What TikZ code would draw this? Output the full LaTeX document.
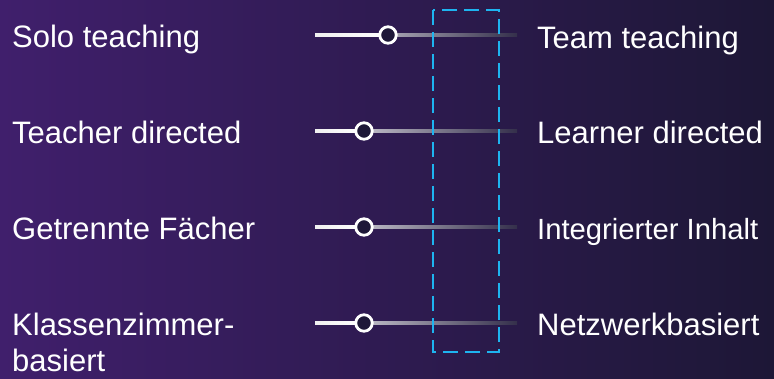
\documentclass[tikz,border=0pt]{standalone}
\usepackage{fontspec}
\setmainfont{Liberation Sans}
\definecolor{bgL}{RGB}{64,31,108}
\definecolor{bgM}{RGB}{40,26,72}
\definecolor{bgR}{RGB}{29,23,54}
\definecolor{trackL}{RGB}{235,233,240}
\definecolor{trackR}{RGB}{52,47,75}
\definecolor{knobfill}{RGB}{30,24,56}
\definecolor{dashcyan}{RGB}{30,180,240}
\tikzset{
  lbl/.style={anchor=base west, inner sep=0pt, text=white, font=\fontsize{31}{36}\selectfont},
  knob/.style={circle, draw=white, line width=2.8pt, fill=knobfill, minimum size=16.5pt, inner sep=0pt},
  frame/.style={draw=dashcyan, line width=1.9pt, dash pattern=on 15pt off 7pt}
}
\begin{document}
\begin{tikzpicture}[x=1pt,y=-1pt]
\useasboundingbox (0,0) rectangle (774,378);
\shade[left color=bgL, middle color=bgM, right color=bgR] (0,0) rectangle (774,378);
\foreach \i/\y/\k in {1/35/388, 2/131/364, 3/227/364, 4/323/364}{
  \coordinate (s\i) at (315,\y);
  \coordinate (e\i) at (517,\y);
  \shade[left color=trackL, right color=trackR] (315,\y-1.7) rectangle (517,\y+1.7);
  \shade[left color=white!88!gray, right color=white] (315,\y-1.7) rectangle (\k,\y+1.7);
  \node[knob] (k\i) at (\k,\y) {};
}
\node[lbl] (l1) at (12,47) {Solo teaching};
\node[lbl] (l2) at (12,143) {Teacher directed};
\node[lbl] (l3) at (12,239) {Getrennte Fächer};
\node[lbl] (l4) at (12,335) {Klassenzimmer-};
\node[lbl] (l4b) at (12,371) {basiert};
\node[lbl] (r1) at (537,48) {Team teaching};
\node[lbl] (r2) at (537,143) {Learner directed};
\node[lbl] (r3) at (537,239) {\resizebox{221pt}{!}{Integrierter Inhalt}};
\node[lbl] (r4) at (537,335) {Netzwerkbasiert};
\draw[frame] (433,10) rectangle (499,352);
\end{tikzpicture}
\end{document}
